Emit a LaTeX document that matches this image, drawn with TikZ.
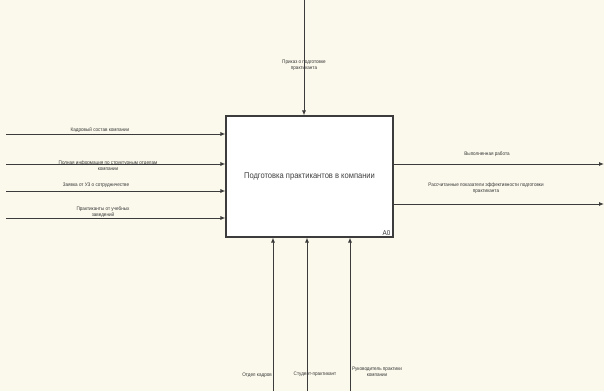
\documentclass[tikz,border=0pt]{standalone}
\usepackage{fontspec}
\setmainfont[FakeStretch=0.9]{Liberation Sans}
\usetikzlibrary{arrows.meta}
\definecolor{bgcream}{RGB}{251,249,236}
\definecolor{linegray}{RGB}{60,60,60}
\tikzset{
  conn/.style={draw=linegray, line width=0.9pt, -{Latex[length=5pt,width=4pt]}},
  lbl/.style={font=\fontsize{5.1}{6.2}\selectfont, align=center, inner sep=0pt, text=black!80},
  funcbox/.style={draw=linegray, line width=1.1pt, fill=white, minimum width=167pt, minimum height=121pt, inner sep=0pt, font=\fontsize{8.4}{10}\selectfont, text=black!75}
}
\begin{document}
\begin{tikzpicture}[x=1pt,y=-1pt]
\fill[bgcream] (0,0) rectangle (604,391);
\useasboundingbox (0,0) rectangle (604,391);

\node[funcbox] (A) at (309.5,176.5) {Подготовка практикантов в компании};
\node[lbl, font=\fontsize{7}{8}\selectfont, anchor=south east] (A0) at ([shift={(-3,-2)}]A.south east) {A0};

% inputs
\coordinate (i1) at (6,134);
\coordinate (i2) at (6,164);
\coordinate (i3) at (6,191);
\coordinate (i4) at (6,218);
\draw[conn] (i1) -- (i1 -| A.west);
\draw[conn] (i2) -- (i2 -| A.west);
\draw[conn] (i3) -- (i3 -| A.west);
\draw[conn] (i4) -- (i4 -| A.west);
\node[lbl] (l1) at (100,130) {Кадровый состав компании};
\node[lbl] (l2) at (108,166) {Полная информация по структурным отделам\\компании};
\node[lbl] (l3) at (96,185.5) {Заявка от УЗ о сотрудничестве};
\node[lbl] (l4) at (103,212) {Практиканты от учебных\\заведений};

% control
\coordinate (c1) at (304,0);
\draw[conn] (c1) -- (c1 |- A.north);
\node[lbl] (lc) at (304,65.5) {Приказ о подготовке\\практиканта};

% outputs
\coordinate (o1) at (604,164);
\coordinate (o2) at (604,204);
\draw[conn] (o1 -| A.east) -- (o1);
\draw[conn] (o2 -| A.east) -- (o2);
\node[lbl] (lo1) at (487,154.5) {Выполненная работа};
\node[lbl] (lo2) at (486,188) {Рассчитанные показатели эффективности подготовки\\практиканта};

% mechanisms
\coordinate (m1) at (273,391);
\coordinate (m2) at (307,391);
\coordinate (m3) at (350,391);
\draw[conn] (m1) -- (m1 |- A.south);
\draw[conn] (m2) -- (m2 |- A.south);
\draw[conn] (m3) -- (m3 |- A.south);
\node[lbl, anchor=east] (lm1) at (272,375) {Отдел кадров};
\node[lbl] (lm2) at (315,374) {Студент-практикант};
\node[lbl] (lm3) at (377,372) {Руководитель практики\\компании};
\end{tikzpicture}
\end{document}
